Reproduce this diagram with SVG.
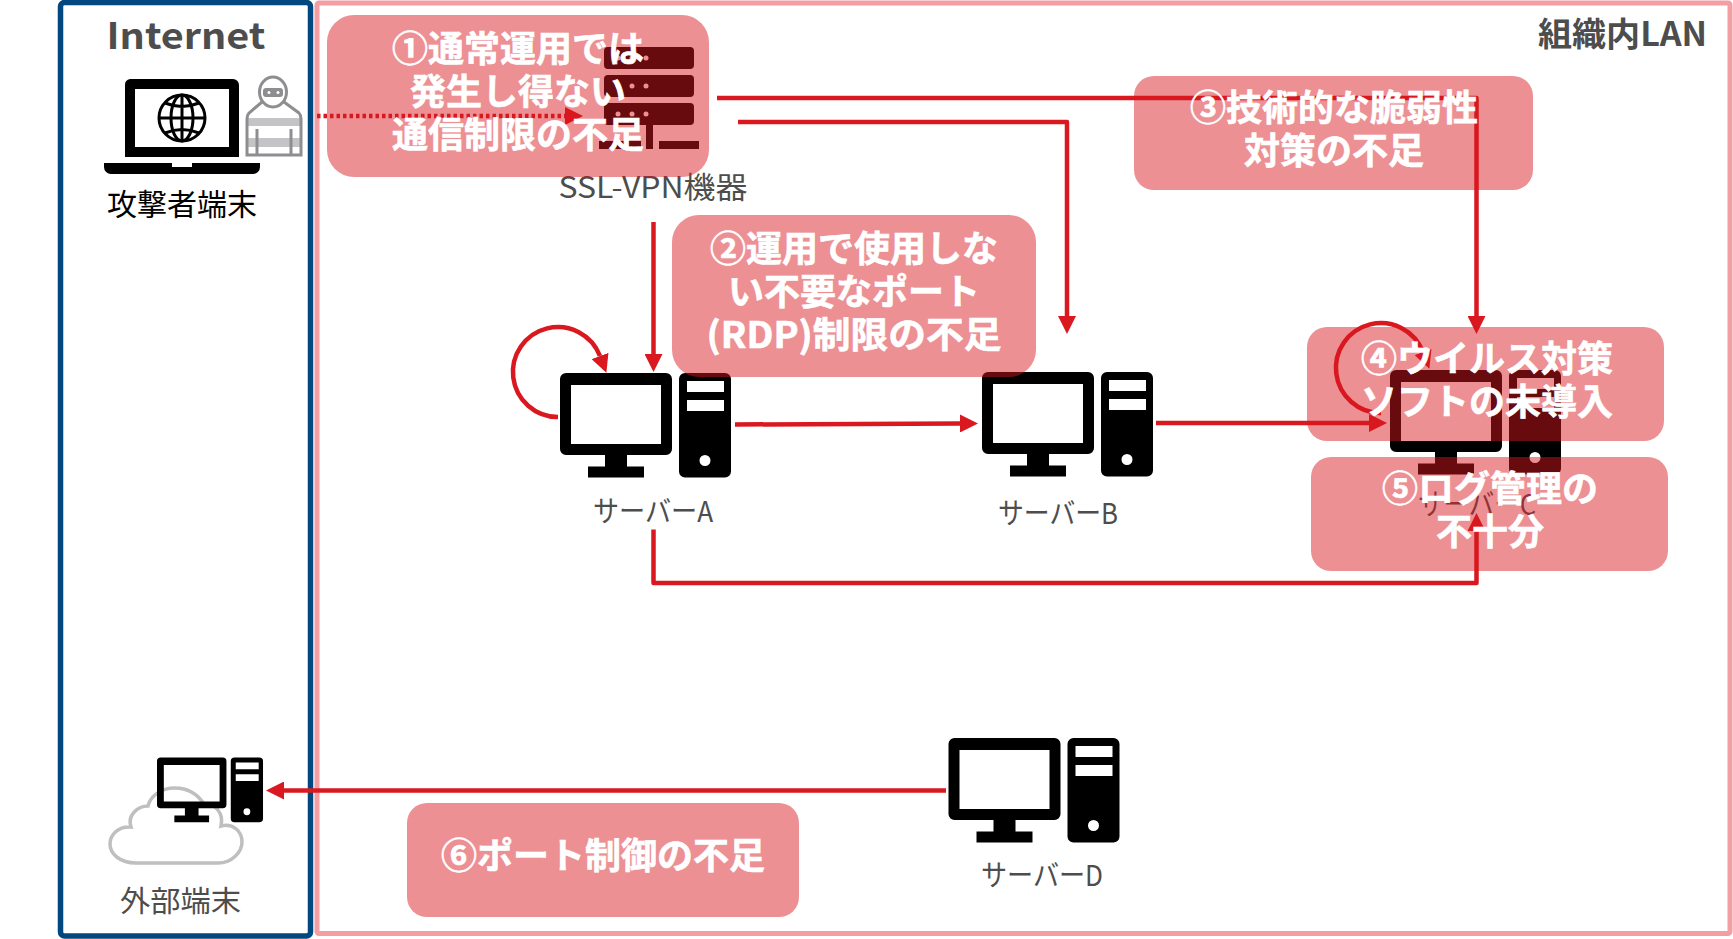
<svg xmlns="http://www.w3.org/2000/svg" width="1733" height="939" viewBox="0 0 1733 939">
<style>
text{font-family:"Noto Sans CJK JP","Noto Sans",sans-serif;text-anchor:middle}
.lbl{fill:#4d4d4d;font-size:29px}
.hd{fill:#4d4d4d;font-size:33px;font-weight:700}
.call rect{fill:#d7181f;fill-opacity:.48}
.call text{fill:#fff;font-size:36px;font-weight:700;stroke:#fff;stroke-width:.6px}
.cn path{fill:none;stroke:#d9181f;stroke-width:4.500;stroke-linejoin:round;marker-end:url(#ah)}
.blk{fill:#000;fill-rule:evenodd}
</style>
<defs>
<marker id="ah" markerUnits="userSpaceOnUse" markerWidth="18" markerHeight="18" refX="0" refY="9" orient="auto"><path d="M0 0L18 9L0 18Z" fill="#d9181f"/></marker>
<path id="pc" class="blk" d="M6 0H106A6 6 0 0 1 112 6V76A6 6 0 0 1 106 82H67V93.500H84V104.500H28V93.500H45V82H6A6 6 0 0 1 0 76V6A6 6 0 0 1 6 0ZM11 12V71H101V12ZM125 0H165A6 6 0 0 1 171 6V98.500A6 6 0 0 1 165 104.500H125A6 6 0 0 1 119 98.500V6A6 6 0 0 1 125 0ZM127 8V19H164V8ZM127 27V38H164V27ZM145 82A5.500 5.500 0 1 0 145 93A5.500 5.500 0 1 0 145 82Z"/>
</defs>
<rect id="frame-internet" x="60.500" y="2.500" width="250" height="933.500" rx="4" fill="none" stroke="#00487f" stroke-width="5.500"/>
<rect id="frame-lan" x="317" y="3" width="1413" height="930.500" rx="2" fill="none" stroke="#f49da2" stroke-width="5"/>
<text class="hd" x="186" y="49" style="font-size:36px" textLength="159" lengthAdjust="spacingAndGlyphs">Internet</text>
<text class="hd" x="1622.500" y="46" textLength="169" lengthAdjust="spacingAndGlyphs">組織内LAN</text>
<g id="attacker">
<path class="blk" d="M130 79H233A6 6 0 0 1 239 85V157H125V85A6 6 0 0 1 130 79ZM135 89V147H229V89ZM104 163H172V167H192V163H260V167A7 7 0 0 1 253 174H111A7 7 0 0 1 104 167Z"/>
<g fill="none" stroke="#000" stroke-width="3"><circle cx="182" cy="118" r="23"/><ellipse cx="182" cy="118" rx="11" ry="23"/><path d="M182 95V141M159 118H205M165 103Q182 110 199 103M165 133Q182 126 199 133"/></g>
<g fill="#c4c4c6"><rect x="248" y="118" width="52" height="8"/><rect x="248" y="138" width="52" height="9"/></g>
<g fill="none" stroke="#8e8e90" stroke-width="3"><ellipse cx="273" cy="92" rx="13.500" ry="15"/><path d="M262 102L249 113Q247 115 247 119V155H301V119Q301 115 299 113L284 102M257 129V155M291 129V155"/></g>
<rect x="263" y="88" width="20" height="9" rx="3" fill="#8e8e90"/><circle cx="269" cy="92.500" r="1.500" fill="#fff"/><circle cx="278" cy="92.500" r="1.500" fill="#fff"/>
<text x="182" y="215" style="fill:#000;font-size:30px">攻撃者端末</text>
</g>
<g id="ssl-vpn">
<path class="blk" d="M608 47H690A4 4 0 0 1 694 51V65A4 4 0 0 1 690 69H608A4 4 0 0 1 604 65V51A4 4 0 0 1 608 47ZM608 75H690A4 4 0 0 1 694 79V93A4 4 0 0 1 690 97H608A4 4 0 0 1 604 93V79A4 4 0 0 1 608 75ZM608 103H690A4 4 0 0 1 694 107V121A4 4 0 0 1 690 125H608A4 4 0 0 1 604 121V107A4 4 0 0 1 608 103ZM646 125H653V149H646ZM599 141H641V149H599ZM659 141H699V149H659Z"/>
<g fill="#fff"><circle cx="618" cy="58" r="2.500"/><circle cx="632" cy="58" r="2.500"/><circle cx="646" cy="58" r="2.500"/><circle cx="618" cy="86" r="2.500"/><circle cx="632" cy="86" r="2.500"/><circle cx="646" cy="86" r="2.500"/><circle cx="618" cy="114" r="2.500"/><circle cx="632" cy="114" r="2.500"/><circle cx="646" cy="114" r="2.500"/></g>
<text class="lbl" x="653" y="198" style="font-size:30px" textLength="189" lengthAdjust="spacingAndGlyphs">SSL-VPN機器</text>
</g>
<g id="server-a"><use href="#pc" x="560" y="373"/><text class="lbl" x="653" y="522" textLength="120" lengthAdjust="spacingAndGlyphs">サーバーA</text></g>
<g id="server-b"><use href="#pc" x="982" y="372"/><text class="lbl" x="1058" y="524" textLength="120" lengthAdjust="spacingAndGlyphs">サーバーB</text></g>
<g id="server-c"><use href="#pc" x="1390" y="370"/><text class="lbl" x="1477" y="515" textLength="118" lengthAdjust="spacingAndGlyphs">サーバーC</text></g>
<g id="server-d"><use href="#pc" x="948.500" y="738"/><text class="lbl" x="1042" y="886" textLength="122" lengthAdjust="spacingAndGlyphs">サーバーD</text></g>
<g id="external">
<path d="M136 863H218C232 863 242 852 242 842C242 831 233 823 221 826C224 813 215 803 204 804C198 795 188 788 175 788C160 788 150 797 148 806C138 806 127 815 131 827C118 826 110 835 110 844C110 854 120 863 136 863Z" fill="none" stroke="#bfbfbf" stroke-width="3.500"/>
<use href="#pc" transform="translate(157 757.500) scale(.62)"/>
<text class="lbl" x="180.500" y="912" textLength="121" lengthAdjust="spacingAndGlyphs">外部端末</text>
</g>
<g id="connectors" class="cn">
<path d="M317 116H565" stroke-dasharray="3.500 3"/>
<path d="M717 98H1476.500V316"/>
<path d="M738 122H1067V316"/>
<path d="M653.500 222V354"/>
<path d="M558 417A45 45 0 1 1 600 356"/>
<path d="M1381 413A45 45 0 1 1 1423 352"/>
<path d="M735 424.500L960 423.500"/>
<path d="M1156 423H1369"/>
<path d="M653.500 529.500V583H1476.500V531"/>
<path d="M946 790.500H284"/>
</g>
<g id="callout-1" class="call"><rect x="327" y="15" width="382" height="162" rx="27"/><text x="518" y="62">①通常運用では</text><text x="518" y="105">発生し得ない</text><text x="518" y="148">通信制限の不足</text></g>
<g id="callout-2" class="call"><rect x="672" y="215" width="364" height="162" rx="27"/><text x="854" y="262">②運用で使用しな</text><text x="854" y="305">い不要なポート</text><text x="854" y="348" textLength="295" lengthAdjust="spacingAndGlyphs">(RDP)制限の不足</text></g>
<g id="callout-3" class="call"><rect x="1134" y="76" width="399" height="114" rx="20"/><text x="1334" y="121">③技術的な脆弱性</text><text x="1334" y="164">対策の不足</text></g>
<g id="callout-4" class="call"><rect x="1307" y="327" width="357" height="114" rx="20"/><text x="1487" y="372">④ウイルス対策</text><text x="1487" y="415">ソフトの未導入</text></g>
<g id="callout-5" class="call"><rect x="1311" y="457" width="357" height="114" rx="20"/><text x="1490" y="502">⑤ログ管理の</text><text x="1490" y="545">不十分</text></g>
<g id="callout-6" class="call"><rect x="407" y="803" width="392" height="114" rx="20"/><text x="603" y="869">⑥ポート制御の不足</text></g>
</svg>
